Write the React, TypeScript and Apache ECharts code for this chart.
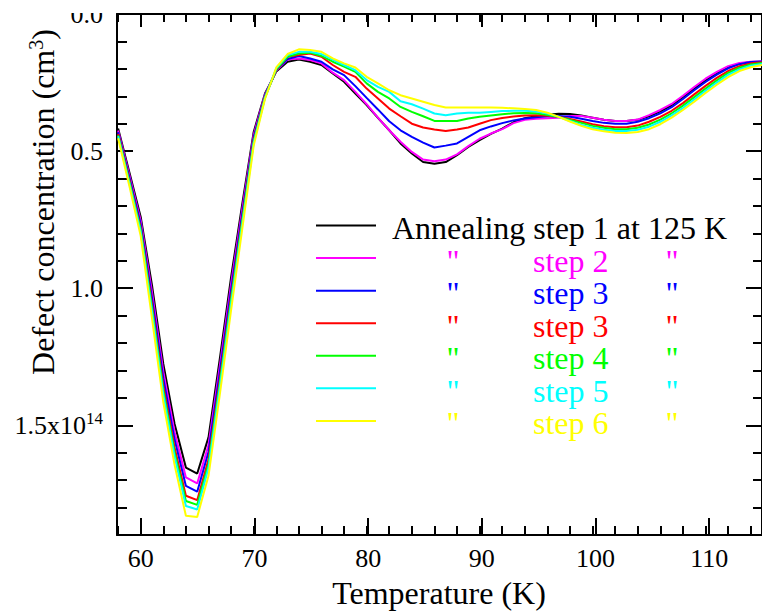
import React, { useEffect, useRef } from "react";
import * as echarts from "echarts";

const temperatures = [
  58, 59, 60, 61, 62, 63, 64, 65, 66, 67,
  68, 69, 70, 71, 72, 73, 74, 75, 76, 77,
  78, 79, 80, 81, 82, 83, 84, 85, 86, 87,
  88, 89, 90, 91, 92, 93, 94, 95, 96, 97,
  98, 99, 100, 101, 102, 103, 104, 105, 106, 107,
  108, 109, 110, 111, 112, 113, 114, 115,
];

const step1 = [
  0.418, 0.578, 0.74, 0.99, 1.276, 1.495, 1.654, 1.676, 1.544, 1.258,
  0.96, 0.69, 0.43, 0.29, 0.21, 0.174, 0.166, 0.174, 0.186, 0.217,
  0.247, 0.29, 0.332, 0.379, 0.424, 0.472, 0.509, 0.54, 0.546, 0.54,
  0.515, 0.485, 0.46, 0.437, 0.418, 0.395, 0.38, 0.373, 0.367, 0.364,
  0.365, 0.37, 0.378, 0.386, 0.39, 0.39, 0.386, 0.373, 0.355, 0.333,
  0.303, 0.272, 0.242, 0.216, 0.194, 0.181, 0.175, 0.174,
];
const step2 = [
  0.425, 0.588, 0.754, 1.014, 1.304, 1.525, 1.69, 1.712, 1.572, 1.284,
  0.984, 0.708, 0.44, 0.294, 0.207, 0.166, 0.162, 0.168, 0.18, 0.214,
  0.241, 0.284, 0.329, 0.378, 0.424, 0.466, 0.503, 0.531, 0.537, 0.531,
  0.512, 0.482, 0.455, 0.436, 0.42, 0.398, 0.386, 0.382, 0.38, 0.378,
  0.372, 0.372, 0.378, 0.386, 0.39, 0.39, 0.385, 0.369, 0.35, 0.328,
  0.298, 0.266, 0.236, 0.211, 0.19, 0.179, 0.174, 0.173,
];
const step3 = [
  0.431, 0.597, 0.767, 1.036, 1.329, 1.552, 1.721, 1.742, 1.597, 1.307,
  1.006, 0.724, 0.449, 0.298, 0.205, 0.164, 0.153, 0.162, 0.174, 0.202,
  0.223, 0.263, 0.306, 0.348, 0.391, 0.424, 0.448, 0.469, 0.487, 0.48,
  0.472, 0.448, 0.424, 0.41, 0.398, 0.388, 0.381, 0.377, 0.373, 0.372,
  0.375, 0.382, 0.39, 0.397, 0.4, 0.4, 0.393, 0.38, 0.362, 0.34,
  0.31, 0.278, 0.248, 0.221, 0.198, 0.183, 0.175, 0.173,
];
const step3b = [
  0.438, 0.607, 0.781, 1.06, 1.357, 1.582, 1.757, 1.773, 1.625, 1.333,
  1.03, 0.742, 0.459, 0.302, 0.205, 0.156, 0.15, 0.144, 0.156, 0.186,
  0.211, 0.229, 0.272, 0.308, 0.345, 0.373, 0.4, 0.414, 0.421, 0.427,
  0.421, 0.414, 0.4, 0.387, 0.379, 0.374, 0.37, 0.369, 0.371, 0.375,
  0.383, 0.392, 0.402, 0.409, 0.413, 0.413, 0.407, 0.393, 0.375, 0.353,
  0.325, 0.293, 0.262, 0.233, 0.208, 0.19, 0.18, 0.176,
];
const step4 = [
  0.442, 0.613, 0.788, 1.073, 1.373, 1.599, 1.776, 1.79, 1.641, 1.348,
  1.043, 0.752, 0.465, 0.304, 0.202, 0.156, 0.144, 0.141, 0.153, 0.174,
  0.192, 0.211, 0.253, 0.284, 0.308, 0.339, 0.357, 0.373, 0.39, 0.39,
  0.39, 0.381, 0.375, 0.37, 0.366, 0.362, 0.361, 0.362, 0.368, 0.376,
  0.386, 0.397, 0.408, 0.415, 0.42, 0.42, 0.415, 0.403, 0.385, 0.362,
  0.334, 0.303, 0.272, 0.242, 0.215, 0.196, 0.184, 0.179,
];
const step5 = [
  0.446, 0.618, 0.796, 1.086, 1.388, 1.615, 1.794, 1.807, 1.656, 1.362,
  1.056, 0.762, 0.47, 0.306, 0.198, 0.15, 0.138, 0.138, 0.146, 0.166,
  0.186, 0.205, 0.241, 0.266, 0.284, 0.318, 0.329, 0.345, 0.363, 0.369,
  0.363, 0.36, 0.36, 0.357, 0.354, 0.353, 0.353, 0.356, 0.363, 0.375,
  0.39, 0.405, 0.415, 0.422, 0.427, 0.427, 0.422, 0.411, 0.393, 0.37,
  0.343, 0.312, 0.28, 0.25, 0.222, 0.202, 0.189, 0.182,
];
const step6 = [
  0.453, 0.628, 0.81, 1.11, 1.416, 1.645, 1.83, 1.834, 1.684, 1.388,
  1.08, 0.78, 0.48, 0.31, 0.195, 0.146, 0.129, 0.131, 0.138, 0.162,
  0.18, 0.195, 0.229, 0.253, 0.278, 0.296, 0.308, 0.32, 0.332, 0.341,
  0.341, 0.341, 0.341, 0.341, 0.342, 0.344, 0.346, 0.35, 0.36, 0.375,
  0.392, 0.408, 0.42, 0.428, 0.433, 0.434, 0.43, 0.42, 0.402, 0.378,
  0.35, 0.32, 0.288, 0.258, 0.23, 0.208, 0.194, 0.186,
];

const seriesValues = [step1, step2, step3, step3b, step4, step5, step6];
const seriesNames = [
  "Annealing step 1 at 125 K",
  "step 2",
  "step 3",
  "step 3",
  "step 4",
  "step 5",
  "step 6",
];
const seriesColors = ["#000000", "#ff00ff", "#0000ff", "#ff0000", "#00ff00", "#00ffff", "#ffff00"];

const yTickValues = [0, 0.5, 1.0, 1.5];
const yTickLabels = ["0.0", "0.5", "1.0", "1.5x10"];
const yExponent = "14";
const xTitle = "Temperature (K)";
const yTitle = "Defect concentration (cm";
const yTitleSup = "3";

const FONT = "Liberation Serif";

export default function App() {
  const ref = useRef<HTMLDivElement>(null);

  useEffect(() => {
    if (!ref.current) return;
    const chart = echarts.init(ref.current, undefined, { renderer: "svg" });

    const gridL = 117;
    const gridT = 14;
    const gridW = 649;
    const gridH = 521;
    const xMin = 57.9;
    const xMax = 115;
    const pxPerK = gridW / (xMax - xMin);

    const tickStyle = { color: "#000", width: 2 };
    const noLine = { show: false, onZero: false };

    const xBase = (extra: any) => ({
      type: "value",
      splitLine: { show: false },
      axisLabel: { show: false },
      ...extra,
    });

    const yHidden = (g: number) => ({
      gridIndex: g,
      type: "value",
      show: false,
      min: 0,
      max: 1,
    });

    const yLeftMinor = {
      gridIndex: 0,
      type: "value",
      inverse: true,
      min: 0,
      max: 1.9,
      interval: 0.1,
      position: "left",
      axisLine: { show: true, onZero: false, lineStyle: tickStyle },
      axisTick: { show: true, inside: true, length: 10, lineStyle: tickStyle },
      axisLabel: { show: false },
      splitLine: { show: false },
    };

    const legendGraphics: any[] = [];
    seriesNames.forEach((name, i) => {
      const ly = 225.5 + i * 32.57;
      const ty = ly + 2.5;
      const color = seriesColors[i];
      legendGraphics.push({
        type: "line",
        shape: { x1: 316, y1: ly, x2: 376, y2: ly },
        style: { stroke: color, lineWidth: 2 },
        z: 50,
      });
      if (i === 0) {
        legendGraphics.push({
          type: "text",
          x: 392,
          y: ty,
          z: 50,
          style: { text: name, fill: color, fontSize: 32, fontFamily: FONT, align: "left", verticalAlign: "middle" },
        });
      } else {
        legendGraphics.push(
          {
            type: "text",
            x: 453,
            y: ty,
            z: 50,
            style: { text: '"', fill: color, fontSize: 32, fontFamily: FONT, align: "center", verticalAlign: "middle" },
          },
          {
            type: "text",
            x: 533,
            y: ty,
            z: 50,
            style: { text: name, fill: color, fontSize: 32, fontFamily: FONT, align: "left", verticalAlign: "middle" },
          },
          {
            type: "text",
            x: 672,
            y: ty,
            z: 50,
            style: { text: '"', fill: color, fontSize: 32, fontFamily: FONT, align: "center", verticalAlign: "middle" },
          }
        );
      }
    });

    const option: any = {
      animation: false,
      backgroundColor: "#ffffff",
      textStyle: { fontFamily: FONT },
      grid: [
        { left: gridL, top: gridT, width: gridW, height: gridH },
        { left: gridL + (58 - xMin) * pxPerK, top: gridT, width: (115 - 58) * pxPerK, height: gridH },
        { left: gridL + (60 - xMin) * pxPerK, top: gridT, width: (110 - 60) * pxPerK, height: gridH },
      ],
      xAxis: [
        xBase({
          gridIndex: 0, min: xMin, max: xMax, position: "bottom",
          axisLine: { show: true, onZero: false, lineStyle: tickStyle },
          axisTick: { show: false },
        }),
        xBase({
          gridIndex: 0, min: xMin, max: xMax, position: "top",
          axisLine: { show: true, onZero: false, lineStyle: tickStyle },
          axisTick: { show: false },
        }),
        xBase({
          gridIndex: 1, min: 58, max: 115, interval: 2, position: "bottom",
          axisLine: noLine,
          axisTick: { show: true, inside: true, length: 9, lineStyle: tickStyle },
        }),
        xBase({
          gridIndex: 1, min: 58, max: 115, interval: 2, position: "top",
          axisLine: noLine,
          axisTick: { show: true, inside: true, length: 8, lineStyle: tickStyle },
        }),
        {
          gridIndex: 2, type: "value", min: 60, max: 110, interval: 10, position: "bottom",
          axisLine: noLine,
          splitLine: { show: false },
          axisTick: { show: true, inside: true, length: 17, lineStyle: tickStyle },
          axisLabel: { show: true, color: "#000", fontSize: 26, fontFamily: FONT, margin: 10 },
        },
        xBase({
          gridIndex: 2, min: 60, max: 110, interval: 10, position: "top",
          axisLine: noLine,
          axisTick: { show: true, inside: true, length: 13, lineStyle: tickStyle },
        }),
      ],
      yAxis: [
        yLeftMinor,
        {
          gridIndex: 0, type: "value", inverse: true, min: 0, max: 1.9, interval: 0.5, position: "left",
          axisLine: noLine,
          splitLine: { show: false },
          axisTick: { show: true, inside: true, length: 16, lineStyle: tickStyle },
          axisLabel: {
            show: true,
            margin: 14,
            showMaxLabel: false,
            formatter: (v: number) => {
              const idx = yTickValues.findIndex((t) => Math.abs(t - v) < 1e-6);
              if (idx < 0) return "";
              const txt = "{b|" + yTickLabels[idx] + "}";
              return idx === yTickValues.length - 1 ? txt + "{sup|" + yExponent + "}" : txt;
            },
            rich: {
              b: { fontSize: 26, fontFamily: FONT, color: "#000" },
              sup: { fontSize: 17, fontFamily: FONT, color: "#000", padding: [0, 0, 14, 0] },
            },
          },
        },
        {
          ...yLeftMinor,
          position: "right",
          axisTick: { show: true, inside: true, length: 9, lineStyle: tickStyle },
        },
        {
          gridIndex: 0, type: "value", inverse: true, min: 0, max: 1.9, interval: 0.5, position: "right",
          axisLine: noLine,
          splitLine: { show: false },
          axisTick: { show: true, inside: true, length: 16, lineStyle: tickStyle },
          axisLabel: { show: false },
        },
        yHidden(1),
        yHidden(2),
      ],
      series: seriesValues.map((vals, i) => ({
        name: seriesNames[i],
        type: "line",
        xAxisIndex: 0,
        yAxisIndex: 0,
        data: temperatures.map((t, j) => [t, vals[j]]),
        showSymbol: false,
        symbol: "none",
        lineStyle: { color: seriesColors[i], width: 2 },
        itemStyle: { color: seriesColors[i] },
        z: 2 + i,
      })),
      graphic: [
        {
          type: "rect",
          shape: { x: 50, y: 0, width: 66, height: 13 },
          style: { fill: "#ffffff" },
          z: 100,
        },
        {
          type: "text",
          x: 439,
          y: 593,
          style: { text: xTitle, fill: "#000", fontSize: 32, fontFamily: FONT, align: "center", verticalAlign: "middle" },
        },
        {
          type: "text",
          x: 43,
          y: 202,
          rotation: Math.PI / 2,
          style: {
            text: yTitle + "{sup|" + yTitleSup + "})",
            fill: "#000",
            fontSize: 32,
            fontFamily: FONT,
            align: "center",
            verticalAlign: "middle",
            rich: {
              sup: { fontSize: 20, fontFamily: FONT, fill: "#000", padding: [0, 0, 14, 0] },
            },
          },
        },
        ...legendGraphics,
      ],
    };

    chart.setOption(option);
    return () => chart.dispose();
  }, []);

  return (
    <div
      ref={ref}
      style={{ position: "fixed", left: 0, top: 0, width: 762, height: 611, background: "#fff" }}
    />
  );
}
